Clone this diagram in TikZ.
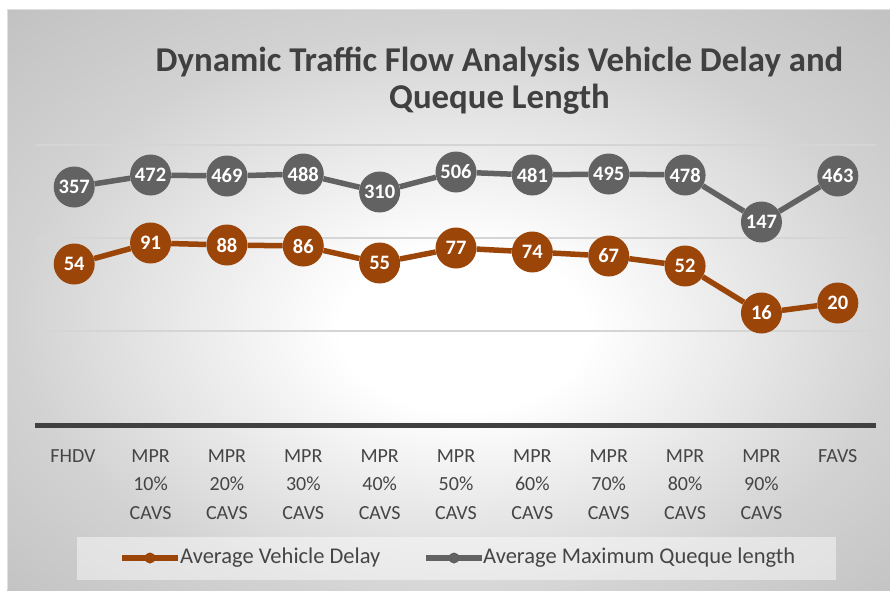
\documentclass[tikz,border=0pt]{standalone}
\usepackage{fontspec}
\setmainfont{Carlito}
\definecolor{bgedge}{HTML}{D2D2D2}
\definecolor{bgcorner}{HTML}{C2C2C2}
\definecolor{delayc}{HTML}{9C4509}
\definecolor{queuec}{HTML}{626262}
\definecolor{gridc}{HTML}{D5D5D5}
\definecolor{axisc}{HTML}{404040}
\definecolor{txtc}{HTML}{454545}
\pgfdeclareradialshading{chartbg}{\pgfpoint{1bp}{-3bp}}{color(0bp)=(white); color(7bp)=(white); color(25bp)=(bgedge); color(36bp)=(bgcorner); color(50bp)=(bgcorner)}
\tikzset{
  gridline/.style={draw=gridc, line width=1.5pt},
  axisline/.style={draw=axisc, line width=5pt},
  qline/.style={draw=queuec, line width=5.5pt},
  dline/.style={draw=delayc, line width=5.5pt},
  qpt/.style={circle, fill=queuec, text=white, minimum size=41pt, inner sep=0pt,
    font=\bfseries\fontsize{20.5}{24}\selectfont},
  dpt/.style={circle, fill=delayc, text=white, minimum size=41pt, inner sep=0pt,
    font=\bfseries\fontsize{20.5}{24}\selectfont},
  cat/.style={anchor=north, align=center, inner sep=0pt, text=txtc,
    font=\fontsize{20}{28.6}\selectfont},
  legtext/.style={anchor=west, inner sep=0pt, text=txtc, font=\fontsize{22.5}{26}\selectfont},
  legmark/.style={circle, inner sep=0pt, minimum size=11pt},
  charttitle/.style={anchor=base, inner sep=0pt, text=axisc,
    font=\bfseries\fontsize{34.8}{38}\selectfont}
}
\begin{document}
\begin{tikzpicture}[x=1pt,y=-1pt]
\path[use as bounding box] (0,0) rectangle (890,590);
\fill[white] (0,0) rectangle (890,590);
\shade[shading=chartbg] (7,9) rectangle (890,590);
\draw[gray!25, line width=0.8pt] (7,9) -- (890,9);
\draw[gray!25, line width=0.8pt] (7,9) -- (7,590);
% title
\node[charttitle] (title1) at (499.5,71.5) {Dynamic Traffic Flow Analysis Vehicle Delay and};
\node[charttitle] (title2) at (499.5,108) {Queque Length};
% grid
\draw[gridline] (36,145) -- (876,145);
\draw[gridline] (36,238) -- (876,238);
\draw[gridline] (36,331) -- (876,331);
\draw[axisline] (35,425) -- (876,425);
% queue points
\foreach \v/\y [count=\i] in {357/187,472/175,469/176,488/174,310/192,506/172,481/175,495/174,478/175,147/222,463/176}{
  \node[qpt] (q\i) at ({74.2+76.36*(\i-1)},\y) {\v};
}
\foreach \v/\y [count=\i] in {54/264,91/243,88/245,86/246,55/263,77/248,74/252,67/256,52/266,16/313,20/303}{
  \node[dpt] (d\i) at ({74.2+76.36*(\i-1)},\y) {\v};
}
\foreach \i [evaluate=\i as \j using int(\i+1)] in {1,...,10}{
  \draw[qline] (q\i) -- (q\j);
  \draw[dline] (d\i) -- (d\j);
}
% categories
\node[cat] (c1) at (73,449.3) {FHDV};
\foreach \p [count=\i] in {10,20,30,40,50,60,70,80,90}{
  \node[cat] (c\i m) at ({74.2+76.36*\i},449.3) {MPR\\\p\%\\CAVS};
}
\node[cat] (c11) at (837.8,449.3) {FAVS};
% legend
\fill[white, opacity=0.45] (77,537) rectangle (836,580);
\coordinate (la1) at (122,558);
\coordinate (lb1) at (178,558);
\draw[dline, line width=6pt] (la1) -- (lb1);
\node[legmark, fill=delayc] (lm1) at (150,558) {};
\node[legtext] (lt1) at (180,558) {Average Vehicle Delay};
\coordinate (la2) at (426,558);
\coordinate (lb2) at (482,558);
\draw[qline, line width=6pt] (la2) -- (lb2);
\node[legmark, fill=queuec] (lm2) at (454,558) {};
\node[legtext] (lt2) at (483,558) {Average Maximum Queque length};
\end{tikzpicture}
\end{document}
